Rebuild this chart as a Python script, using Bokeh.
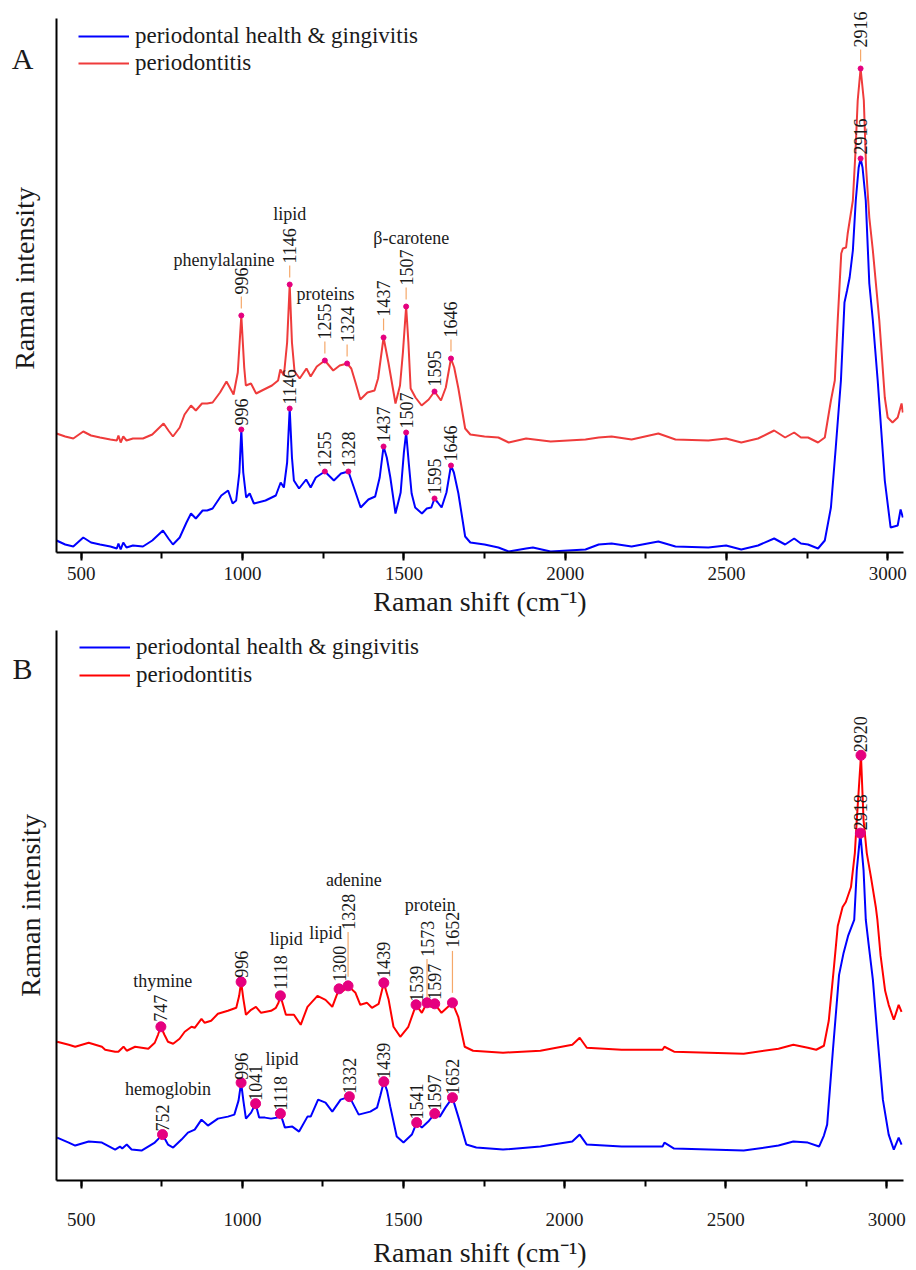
import math
from bokeh.plotting import figure
from bokeh.models import (ColumnDataSource, Legend, LegendItem, SingleIntervalTicker,
                          FixedTicker, Label, Range1d)
from bokeh.layouts import column
from bokeh.embed import file_html
from bokeh.resources import INLINE
from bokeh.core.properties import value

FONT = "Liberation Serif"

# ---------------- Panel A data (Raman shift, intensity a.u.) ----------------
a_blue_shift = [423, 450, 475, 506, 530, 558, 590, 610, 615, 622,
                630, 640, 660, 691, 720, 753, 770, 784, 805, 826,
                840, 855, 876, 890, 907, 934, 955, 969, 980, 990,
                996, 1002, 1011, 1022, 1035, 1071, 1103, 1118, 1128, 1138,
                1146, 1153, 1159, 1175, 1197, 1211, 1227, 1255, 1283, 1305,
                1328, 1345, 1366, 1390, 1411, 1425, 1437, 1447, 1458, 1474,
                1490, 1500, 1507, 1515, 1524, 1535, 1556, 1571, 1585, 1595,
                1605, 1617, 1632, 1646, 1655, 1669, 1690, 1706, 1750, 1793,
                1825, 1879, 1900, 1955, 2063, 2104, 2144, 2206, 2289, 2342,
                2444, 2499, 2546, 2598, 2648, 2682, 2710, 2731, 2753, 2784,
                2805, 2824, 2839, 2855, 2866, 2874, 2882, 2892, 2901, 2910,
                2916, 2922, 2932, 2943, 2954, 2969, 2991, 3009, 3031, 3040,
                3047]
a_blue_int = [12, 8, 6, 15, 10, 8, 6, 4, 9, 3,
              10, 5, 7, 6, 12, 22, 14, 8, 15, 30,
              39, 34, 42, 42, 44, 57, 62, 49, 52, 80,
              123, 80, 55, 59, 49, 52, 57, 70, 65, 90,
              144, 95, 72, 64, 73, 65, 75, 81, 72, 79,
              81, 65, 45, 53, 56, 75, 106, 95, 75, 39,
              60, 100, 120, 90, 59, 45, 39, 44, 45, 54,
              50, 45, 60, 87, 80, 59, 16, 10, 8, 5,
              1, 4, 5, 1, 3, 8, 9, 6, 11, 6,
              5, 7, 3, 7, 14, 8, 14, 9, 8, 4,
              12, 45, 105, 172, 250, 262, 275, 302, 352, 385,
              394, 385, 352, 269, 232, 172, 72, 25, 27, 43,
              35]

a_red_shift = [423, 450, 475, 506, 530, 558, 590, 610, 615, 622,
               630, 640, 660, 691, 720, 755, 770, 784, 805, 820,
               840, 855, 874, 890, 907, 930, 950, 972, 985, 996,
               1005, 1010, 1026, 1042, 1060, 1091, 1110, 1117, 1128, 1138,
               1146, 1153, 1161, 1177, 1198, 1211, 1230, 1255, 1281, 1301,
               1324, 1337, 1350, 1365, 1387, 1409, 1420, 1437, 1452, 1474,
               1488, 1497, 1507, 1514, 1521, 1536, 1555, 1577, 1595, 1615,
               1630, 1646, 1656, 1669, 1690, 1706, 1750, 1793, 1825, 1879,
               1955, 2063, 2104, 2144, 2206, 2289, 2342, 2444, 2499, 2546,
               2598, 2648, 2682, 2710, 2731, 2753, 2784, 2805, 2824, 2836,
               2845, 2856, 2861, 2871, 2876, 2892, 2900, 2907, 2916, 2926,
               2933, 2943, 2954, 2974, 2991, 3000, 3015, 3031, 3043, 3047]
a_red_int = [119, 116, 114, 121, 117, 115, 113, 112, 117, 110,
             116, 112, 114, 114, 118, 129, 122, 116, 125, 138,
             147, 142, 149, 149, 150, 160, 171, 158, 180, 237,
             185, 167, 169, 159, 162, 167, 172, 183, 177, 210,
             268, 210, 181, 174, 184, 176, 186, 192, 182, 187,
             189, 184, 170, 153, 160, 162, 174, 215, 190, 149,
             167, 200, 246, 210, 164, 155, 147, 153, 161, 152,
             165, 194, 185, 164, 124, 118, 116, 115, 110, 114,
             111, 113, 115, 116, 113, 119, 113, 112, 114, 110,
             114, 122, 115, 120, 115, 115, 110, 115, 152, 172,
             232, 299, 304, 305, 319, 352, 400, 452, 484, 452,
             385, 335, 302, 232, 155, 135, 130, 135, 149, 140]

a_blue_peaks = [996, 1146, 1255, 1328, 1437, 1507, 1595, 1646, 2916]
a_red_peaks = [996, 1146, 1255, 1324, 1437, 1507, 1595, 1646, 2916]
a_red_has_leader = [1, 1, 1, 1, 1, 1, 0, 1, 1]
a_names = ["phenylalanine", "lipid", "proteins", "\u03b2-carotene"]
a_name_shift = [942, 1146, 1167, 1523]
a_name_int = [293, 339, 259, 315]
a_name_align = ["center", "center", "left", "center"]

# ---------------- Panel B data ----------------
b_blue_shift = [425, 461, 481, 523, 564, 605, 620, 627, 641, 656,
                687, 728, 740, 752, 769, 785, 811, 831, 852, 873,
                893, 924, 955, 975, 988, 996, 1003, 1011, 1027, 1041,
                1052, 1070, 1089, 1108, 1118, 1132, 1155, 1176, 1202, 1212,
                1235, 1258, 1279, 1305, 1332, 1361, 1397, 1418, 1428, 1439,
                1449, 1459, 1479, 1500, 1526, 1541, 1557, 1577, 1597, 1613,
                1630, 1652, 1670, 1695, 1726, 1809, 1925, 2024, 2047, 2069,
                2177, 2304, 2310, 2340, 2556, 2664, 2710, 2755, 2790, 2805,
                2815, 2833, 2852, 2866, 2880, 2899, 2907, 2918, 2928, 2935,
                2944, 2957, 2972, 2988, 3006, 3022, 3037, 3046]
b_blue_int = [73, 68, 65, 69, 68, 61, 64, 62, 66, 61,
              60, 68, 72, 76, 66, 63, 71, 78, 81, 91,
              85, 92, 94, 96, 110, 128, 110, 92, 98, 107,
              93, 93, 92, 93, 97, 83, 84, 79, 94, 94,
              111, 108, 99, 111, 114, 96, 99, 103, 115, 129,
              120, 104, 74, 68, 76, 88, 83, 89, 97, 94,
              103, 113, 94, 66, 63, 61, 64, 69, 76, 66,
              64, 64, 68, 62, 60, 65, 69, 68, 64, 75,
              86, 161, 236, 258, 275, 291, 341, 378, 341, 291,
              266, 231, 171, 111, 76, 61, 73, 66]

b_red_shift = [425, 461, 481, 523, 564, 574, 605, 615, 631, 641,
               667, 708, 728, 738, 747, 758, 769, 785, 805, 821,
               842, 852, 873, 883, 903, 924, 955, 981, 990, 996,
               1003, 1011, 1027, 1042, 1058, 1089, 1104, 1112, 1118, 1127,
               1135, 1160, 1181, 1202, 1233, 1258, 1279, 1300, 1313, 1328,
               1351, 1366, 1387, 1402, 1423, 1439, 1454, 1469, 1490, 1515,
               1539, 1557, 1573, 1584, 1597, 1618, 1652, 1670, 1690, 1716,
               1809, 1925, 2024, 2047, 2069, 2177, 2304, 2310, 2340, 2556,
               2664, 2710, 2755, 2781, 2805, 2820, 2835, 2848, 2863, 2873,
               2889, 2901, 2907, 2920, 2928, 2938, 2951, 2966, 2971, 2981,
               2995, 3006, 3022, 3037, 3046]
b_red_int = [169, 166, 164, 168, 164, 161, 159, 159, 164, 160,
             164, 162, 168, 176, 184, 176, 169, 167, 172, 179,
             184, 183, 192, 188, 190, 197, 200, 203, 215, 229,
             212, 196, 201, 204, 198, 200, 203, 208, 215, 205,
             196, 196, 186, 204, 215, 211, 204, 222, 220, 225,
             218, 206, 208, 203, 207, 228, 211, 184, 174, 184,
             206, 198, 208, 204, 207, 198, 208, 194, 164, 160,
             158, 160, 166, 173, 163, 161, 161, 164, 159, 157,
             162, 166, 163, 161, 165, 190, 240, 285, 304, 309,
             324, 358, 391, 456, 391, 358, 334, 304, 291, 255,
             220, 206, 191, 206, 199]

b_blue_peaks = [752, 996, 1041, 1118, 1332, 1439, 1541, 1597, 1652, 2918]
b_red_peaks = [747, 996, 1118, 1300, 1328, 1439, 1539, 1573, 1597, 1652, 2920]
b_red_text_gap = [5, 4, 6, 7, 56, 5, 3, 46, 4, 55, 3]
b_red_leader_lo = [0, 0, 0, 0, 9, 0, 0, 2, 0, 10, 0]
b_red_leader_hi = [0, 0, 0, 0, 54, 0, 0, 44, 0, 52, 0]
b_names = ["thymine", "lipid", "lipid", "adenine", "protein", "hemoglobin", "lipid"]
b_name_shift = [753, 1136, 1259, 1346, 1583, 769, 1123]
b_name_int = [230, 272, 278, 331, 306, 122, 152]

legend_labels = ["periodontal health & gingivitis", "periodontitis"]
panel_tags = ["A", "B"]

DOT = "#E5007F"
LEAD = "#F5A86A"
TXT = "#1a1a1a"


def lookup(shifts, ints, peaks):
    return [ints[shifts.index(s)] for s in peaks]


def base_fig(height, x_end, y_bounds, y_end, tag, tag_y, bl, br, bt, bb,
             lab_standoff, ax_standoff, tag_standoff, ylab_standoff):
    p = figure(width=916, height=height, x_range=Range1d(423, x_end),
               y_range=Range1d(y_bounds[0], y_end), output_backend="svg",
               toolbar_location=None, min_border_left=bl, min_border_right=br,
               min_border_top=bt, min_border_bottom=bb)
    p.grid.visible = False
    p.outline_line_color = None
    xa = p.xaxis[0]
    xa.ticker = SingleIntervalTicker(interval=500, num_minor_ticks=2)
    xa.axis_line_width = 2
    xa.major_tick_line_width = 2
    xa.minor_tick_line_width = 2
    xa.major_tick_in = 0
    xa.major_tick_out = 8
    xa.minor_tick_in = 0
    xa.minor_tick_out = 6
    xa.major_label_text_font = FONT
    xa.major_label_text_font_size = "19px"
    xa.major_label_text_color = TXT
    xa.major_label_standoff = lab_standoff
    xa.axis_label = "Raman shift (cm\u207b\u00b9)"
    xa.axis_label_text_font = FONT
    xa.axis_label_text_font_size = "28px"
    xa.axis_label_text_font_style = "normal"
    xa.axis_label_text_color = TXT
    xa.axis_label_standoff = ax_standoff
    ya = p.yaxis[0]
    ya.bounds = y_bounds
    # the panel tag ("A"/"B") is shown as the only label on the left axis
    ya.ticker = FixedTicker(ticks=[tag_y])
    ya.major_label_overrides = {tag_y: tag}
    ya.major_label_text_font = FONT
    ya.major_label_text_font_size = "30px"
    ya.major_label_text_color = TXT
    ya.major_label_standoff = tag_standoff
    ya.axis_line_width = 2
    ya.major_tick_line_color = None
    ya.major_tick_out = 0
    ya.major_tick_in = 0
    ya.minor_tick_line_color = None
    ya.axis_label = "Raman intensity"
    ya.axis_label_text_font = FONT
    ya.axis_label_text_font_size = "28px"
    ya.axis_label_text_font_style = "normal"
    ya.axis_label_text_color = TXT
    ya.axis_label_standoff = ylab_standoff
    return p


def add_legend(p, rb, rr, vx, vy, spacing):
    leg = Legend(items=[LegendItem(label=legend_labels[0], renderers=[rb]),
                        LegendItem(label=legend_labels[1], renderers=[rr])],
                 location=(vx, vy), border_line_color=None, background_fill_alpha=0,
                 padding=0, margin=0, spacing=spacing, glyph_width=51, glyph_height=22,
                 label_height=22, label_standoff=6, label_text_font=FONT,
                 label_text_font_size="23px", label_text_color=TXT)
    p.add_layout(leg)


def vtext(p, xs, ys, gaps):
    src = ColumnDataSource(dict(x=xs, y=ys, t=[str(v) for v in xs], g=[-g for g in gaps]))
    p.text(x="x", y="y", text="t", source=src, angle=math.pi / 2, text_align="left",
           text_baseline="middle", text_font=value(FONT), text_font_size="18px",
           text_color=TXT, y_offset="g")


# ---------------- Panel A ----------------
pA = base_fig(620, 3049, (0, 534), 548, panel_tags[0], 494, 56, 10, 4, 68,
              6, 3, 23, -31)
rbA = pA.line(a_blue_shift, a_blue_int, line_color="#0000FF", line_width=2)
rrA = pA.line(a_red_shift, a_red_int, line_color="#EF3B3B", line_width=2)

a_red_pk = lookup(a_red_shift, a_red_int, a_red_peaks)
a_blue_pk = lookup(a_blue_shift, a_blue_int, a_blue_peaks)
lx = [s for s, h in zip(a_red_peaks, a_red_has_leader) if h]
ly = [v for v, h in zip(a_red_pk, a_red_has_leader) if h]
pA.segment(x0=lx, y0=[v + 7 for v in ly], x1=lx, y1=[v + 19 for v in ly],
           line_color=LEAD, line_width=1.2)
pA.scatter(a_red_peaks, a_red_pk, size=5, color=DOT)
pA.scatter(a_blue_peaks, a_blue_pk, size=5, color=DOT)
vtext(pA, a_red_peaks, a_red_pk, [21 if h else 5 for h in a_red_has_leader])
vtext(pA, a_blue_peaks, a_blue_pk, [4] * len(a_blue_peaks))
for nm, sx, iy, al in zip(a_names, a_name_shift, a_name_int, a_name_align):
    pA.add_layout(Label(x=sx, y=iy, text=nm, text_align=al, text_baseline="middle",
                        text_font=FONT, text_font_size="18px", text_color=TXT))
add_legend(pA, rbA, rrA, 22, 476, 1)

# ---------------- Panel B ----------------
pB = base_fig(650, 3052, (30, 581), 581, panel_tags[1], 543, 51, 13, 10, 89,
              24, 8, 24, -37)
rbB = pB.line(b_blue_shift, b_blue_int, line_color="#0000FF", line_width=2)
rrB = pB.line(b_red_shift, b_red_int, line_color="#FF0000", line_width=2)

b_red_pk = lookup(b_red_shift, b_red_int, b_red_peaks)
b_blue_pk = lookup(b_blue_shift, b_blue_int, b_blue_peaks)
bl_x = [s for s, hi in zip(b_red_peaks, b_red_leader_hi) if hi]
bl_y0 = [v + lo for v, lo, hi in zip(b_red_pk, b_red_leader_lo, b_red_leader_hi) if hi]
bl_y1 = [v + hi for v, hi in zip(b_red_pk, b_red_leader_hi) if hi]
pB.segment(x0=bl_x, y0=bl_y0, x1=bl_x, y1=bl_y1, line_color=LEAD, line_width=1.2)
pB.scatter(b_red_peaks, b_red_pk, size=10, color=DOT)
pB.scatter(b_blue_peaks, b_blue_pk, size=10, color=DOT)
vtext(pB, b_red_peaks, b_red_pk, b_red_text_gap)
vtext(pB, b_blue_peaks, b_blue_pk, [3] * len(b_blue_peaks))
for nm, sx, iy in zip(b_names, b_name_shift, b_name_int):
    pB.add_layout(Label(x=sx, y=iy, text=nm, text_align="center", text_baseline="middle",
                        text_font=FONT, text_font_size="18px", text_color=TXT))
add_legend(pB, rbB, rrB, 23, 492, 2)

layout = column(pA, pB)
open("out.html", "w").write(file_html(layout, INLINE))
